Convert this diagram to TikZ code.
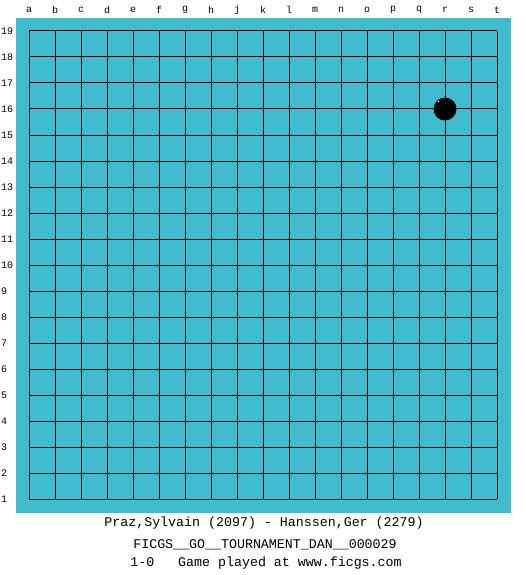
\documentclass[tikz,border=0pt]{standalone}
\usepackage{fontspec}
\setmonofont{Liberation Mono}
\definecolor{board}{HTML}{41BCCE}
\begin{document}
\begin{tikzpicture}[x=1pt,y=-1pt,
  lbl/.style={font=\ttfamily\fontsize{10}{10}\selectfont, inner sep=0pt},
  captext/.style={font=\ttfamily\fontsize{13.3}{13.3}\selectfont, inner sep=0pt}]
\useasboundingbox (0,0) rectangle (525,575);
\fill[white] (0,0) rectangle (525,575);
\fill[board] (16,18) rectangle (511,513);
\foreach \i in {0,...,18} {
  \draw[line width=1pt] (29+\i*26,31) -- (29+\i*26,499);
  \draw[line width=1pt] (29,31+\i*26) -- (497,31+\i*26);
}
\foreach \l [count=\i from 0] in {a,b,c,d,e,f,g,h,j,k,l,m,n,o,p,q,r,s,t} {
  \node[lbl] (col\l) at (29+\i*26,10) {\l};
}
\foreach \n in {1,...,19} {
  \node[lbl, anchor=west] (row\n) at (1,31+19*26-\n*26) {\n};
}
\fill[black] (445,109) circle (11.5);
\fill[white] (438.5,101.5) circle (0.8);
\node[captext] (players) at (264,523) {Praz,Sylvain (2097) - Hanssen,Ger (2279)};
\node[captext] (event) at (265,545) {FICGS\_\_GO\_\_TOURNAMENT\_DAN\_\_000029};
\node[captext] (result) at (266,563) {1-0\ \ \ Game played at www.ficgs.com};
\end{tikzpicture}
\end{document}
